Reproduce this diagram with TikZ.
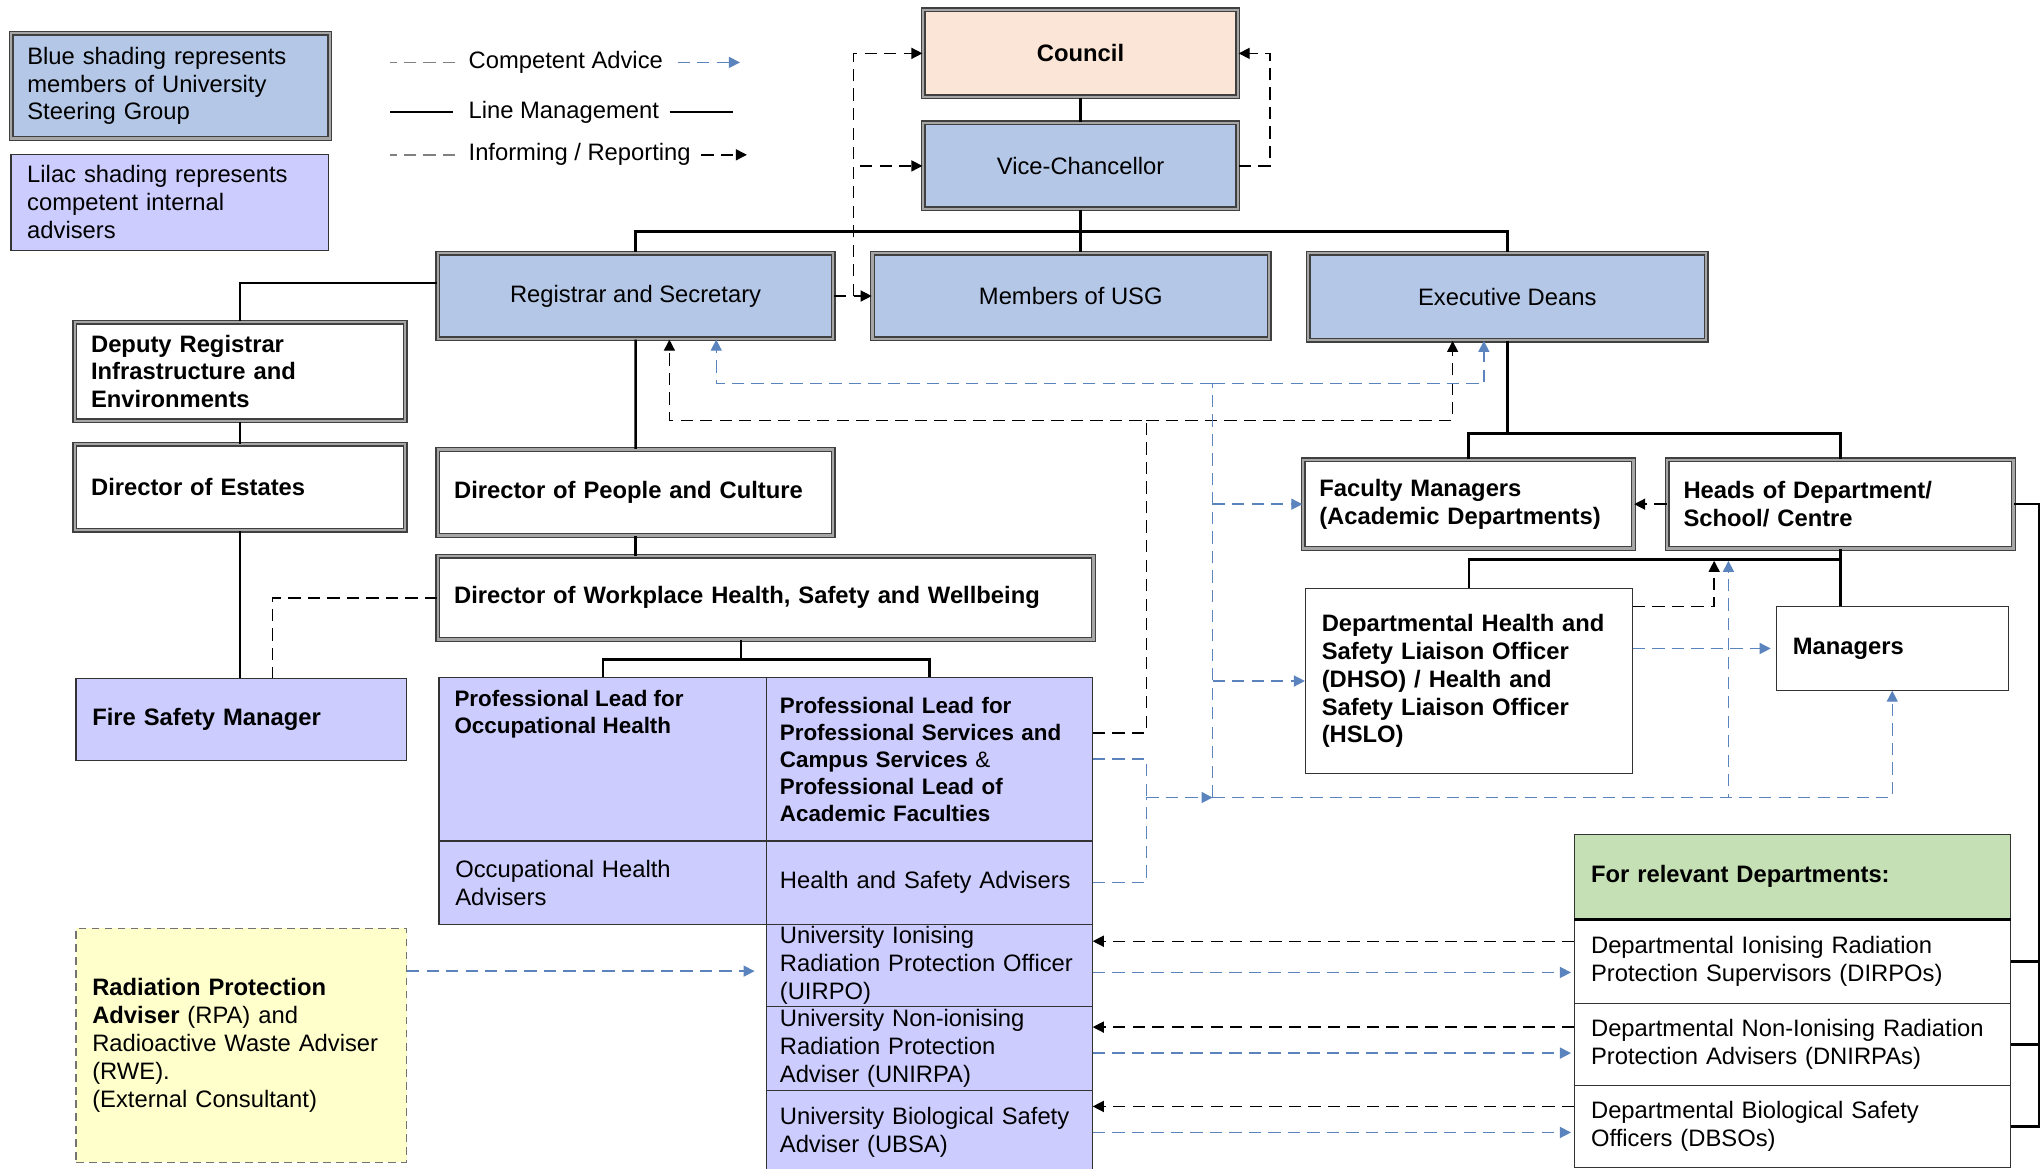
\documentclass[tikz,border=0pt]{standalone}
\usepackage{fontspec}
\setmainfont{Liberation Sans}
\usepackage{tikz}
\usetikzlibrary{arrows.meta}
\definecolor{usgblue}{HTML}{B4C7E7}
\definecolor{lilac}{HTML}{CCCCFF}
\definecolor{councilpeach}{HTML}{FBE5D6}
\definecolor{deptgreen}{HTML}{C5E0B4}
\definecolor{rpayellow}{HTML}{FFFFCC}
\definecolor{advblue}{HTML}{5B84BE}
\newcommand{\boxfont}{\fontsize{10.4}{12.2}\selectfont}
\newcommand{\leadfont}{\fontsize{9.8}{11.8}\selectfont\bfseries}

\begin{document}
\begin{tikzpicture}[x=0.2mm, y=-0.2mm,
    every node/.style={font=\boxfont, inner ysep=0pt},
    sz/.style 2 args={minimum width=#1*0.2mm, minimum height=#2*0.2mm, anchor=north west},
    dbl/.style={draw=black!75, line width=0.6pt, double=black!35, double distance=1pt},
    usgbox/.style={dbl, fill=usgblue, align=center},
    mgrbox/.style={dbl, fill=white, align=left, inner xsep=2.5mm, font=\boxfont\bfseries},
    advbox/.style={draw=black!80, line width=0.5pt, fill=lilac, align=left, inner xsep=2.5mm},
    deptbox/.style={draw=black!80, line width=0.5pt, fill=white, align=left, inner xsep=2.5mm},
    lm/.style={line width=1.1pt},
    informline/.style={line width=0.6pt, dash pattern=on 1.9mm off 1.1mm},
    inform/.style={informline, -{Triangle[length=1.7mm, width=1.7mm]}},
    adviceline/.style={draw=advblue, line width=0.6pt, dash pattern=on 1.9mm off 1.1mm},
    advice/.style={adviceline, -{Triangle[length=1.7mm, width=1.7mm]}},
]
\useasboundingbox (0,0) rectangle (1568,898);
\fill[white] (0,0) rectangle (1568,898);

% key
\node[usgbox, sz={245}{81}, align=left, inner xsep=2.5mm, text width=44mm] (keyusg) at (8,25) {Blue shading represents\\members of University\\Steering Group};
\node[advbox, sz={244}{74}, text width=43.8mm] (keyadv) at (8,118) {Lilac shading represents\\competent internal\\advisers};
\node[anchor=west] (keyadvice) at (354,48) {Competent Advice};
\node[anchor=west] (keyline) at (354,86) {Line Management};
\node[anchor=west] (keyinform) at (354,119) {Informing / Reporting};
\draw[adviceline, draw=gray] ([xshift=-0.8mm]keyadvice.west) -- ++(-50,0);
\draw[advice] ([xshift=1mm]keyadvice.east) -- ++(48,0);
\draw[lm] ([xshift=-1.2mm]keyline.west) -- ++(-48,0);
\draw[lm] ([xshift=0.4mm]keyline.east) -- ++(49,0);
\draw[informline, draw=gray] ([xshift=-0.8mm]keyinform.west) -- ++(-50,0);
\draw[inform] ([xshift=0.4mm]keyinform.east) -- ++(35,0);

% university steering group
\node[usgbox, sz={242}{67}, fill=councilpeach] (council) at (709,7) {\textbf{Council}};
\node[usgbox, sz={242}{66}] (vc) at (709,94) {Vice-Chancellor};
\node[usgbox, sz={304}{66}] (registrar) at (336,194) {Registrar and Secretary};
\node[usgbox, sz={305}{66}] (members) at (670,194) {Members of USG};
\node[usgbox, sz={306}{67}] (exec) at (1005,194) {Executive Deans};

% managers
\node[mgrbox, sz={254}{76}, text width=45.8mm] (deputy) at (57,247) {Deputy Registrar\\Infrastructure and\\Environments};
\node[mgrbox, sz={254}{66}, text width=45.8mm] (estates) at (57,341) {Director of Estates};
\node[mgrbox, sz={304}{66}, text width=55.8mm] (people) at (336,345) {Director of People and Culture};
\node[mgrbox, sz={504}{64}, text width=95.8mm] (workplace) at (336,427) {Director of Workplace Health, Safety and Wellbeing};
\node[mgrbox, sz={254}{68}, text width=45.8mm] (faculty) at (1001,353) {Faculty Managers\\(Academic Departments)};
\node[mgrbox, sz={266}{68}, text width=48.2mm] (heads) at (1281,353) {Heads of Department/\\School/ Centre};

% competent internal advisers
\node[advbox, sz={254}{63}, text width=45.8mm, font=\boxfont\bfseries] (fire) at (58,521) {Fire Safety Manager};
\node[advbox, sz={252}{126}, label={[anchor=north west, align=left, font=\leadfont, inner xsep=0pt, xshift=2.4mm, yshift=-2mm]north west:{Professional Lead for\\Occupational Health}}] (ohlead) at (337,520) {};
\node[advbox, sz={250}{126}, inner xsep=2mm, text width=46mm, font=\leadfont] (pslead) at (589,520) {Professional Lead for\\Professional Services and\\Campus Services {\mdseries\&}\\Professional Lead of\\Academic Faculties};
\node[advbox, sz={252}{64}, text width=45.4mm] (ohadv) at (337,646) {Occupational Health\\Advisers};
\node[advbox, sz={250}{64}, inner xsep=2mm, text width=46mm] (hsadv) at (589,646) {Health and Safety Advisers};
\node[advbox, sz={250}{63}, inner xsep=2mm, text width=46mm] (uirpo) at (589,710) {University Ionising\\Radiation Protection Officer\\(UIRPO)};
\node[advbox, sz={250}{65}, inner xsep=2mm, text width=46mm] (unirpa) at (589,773) {University Non-ionising\\Radiation Protection\\Adviser (UNIRPA)};
\node[advbox, sz={250}{64}, inner xsep=2mm, text width=46mm] (ubsa) at (589,838) {University Biological Safety\\Adviser (UBSA)};
\node[deptbox, sz={254}{180}, text width=45.8mm, fill=rpayellow, draw=black!55, dash pattern=on 1.2mm off 0.8mm] (rpa) at (58,713) {\textbf{Radiation Protection}\\\textbf{Adviser} (RPA) and\\Radioactive Waste Adviser\\(RWE).\\(External Consultant)};

% departments
\node[deptbox, sz={251}{142}, text width=45.2mm, font=\boxfont\bfseries] (dhso) at (1003,452) {Departmental Health and\\Safety Liaison Officer\\(DHSO) / Health and\\Safety Liaison Officer\\(HSLO)};
\node[deptbox, sz={178}{64}, text width=30.6mm, font=\boxfont\bfseries] (managers) at (1365,466) {Managers};
\node[deptbox, sz={335}{65}, text width=62mm, fill=deptgreen, font=\boxfont\bfseries] (forrel) at (1210,641) {For relevant Departments:};
\node[deptbox, sz={335}{65}, text width=62mm] (dirpo) at (1210,706) {Departmental Ionising Radiation\\Protection Supervisors (DIRPOs)};
\node[deptbox, sz={335}{63}, text width=62mm] (dnirpa) at (1210,771) {Departmental Non-Ionising Radiation\\Protection Advisers (DNIRPAs)};
\node[deptbox, sz={335}{63}, text width=62mm] (dbso) at (1210,834) {Departmental Biological Safety\\Officers (DBSOs)};
\draw[line width=1.2pt] (forrel.south west) -- (forrel.south east);

% line management
\draw[lm] (council.south) -- (vc.north);
\draw[lm] (vc.south) -- (vc.south |- members.north);
\draw[lm] (registrar.north) -- ++(0,-16) -| (exec.north);
\draw[lm] ([yshift=2mm]registrar.west) -| (deputy.north);
\draw[lm] (deputy.south) -- (estates.north);
\draw[lm] (estates.south) -- (estates.south |- fire.north);
\draw[lm] (registrar.south) -- (people.north);
\draw[lm] (people.south) -- (people.south |- workplace.north);
\draw[lm] ([xshift=-3.8mm]workplace.south) -- ++(0,15) -| (ohlead.north);
\draw[lm] ([xshift=-3.8mm]workplace.south) ++(0,15) -| (pslead.north);
\draw[lm] (exec.south) -- ++(0,71) -| (faculty.north);
\draw[lm] (exec.south) ++(0,71) -| (heads.north);
\draw[lm] (heads.south) -- ++(0,8) -| (dhso.north);
\draw[lm] (heads.south) -- (heads.south |- managers.north);
\draw[lm] (heads.east) -- ++(19,0) |- (dirpo.east);
\draw[lm] (heads.east) -- ++(19,0) |- (dnirpa.east);
\draw[lm] (heads.east) -- ++(19,0) |- (dbso.east);

% informing / reporting
\draw[inform] (registrar.east) -- (members.west);
\draw[inform] (registrar.east) -- ++(15,0) |- (council.west);
\draw[inform] ([xshift=3mm]registrar.east) |- (vc.west);
\draw[inform] (vc.east) -- ++(24,0) |- (council.east);
\draw[informline] (workplace.west) -| ([xshift=4.8mm]fire.north);
\draw[inform] (heads.west) -- (faculty.east);
\draw[inform] ([yshift=-2.8mm]dhso.north east) -| ([xshift=-19.4mm,yshift=-1.8mm]heads.south);
\coordinate (infojunc) at (881,323);
\draw[inform] ([yshift=4mm]pslead.east) -| (infojunc) -| ([xshift=5.2mm]registrar.south);
\draw[inform] (infojunc) -| ([xshift=-8.4mm]exec.south);

% competent advice
\coordinate (advjunc) at (881,613);
\coordinate (advup) at (932,613);
\coordinate (advtop) at (932,295);
\draw[adviceline] (pslead.east) -| (advjunc);
\draw[adviceline] (hsadv.east) -| (advjunc);
\draw[advice] (advjunc) -- (advup);
\draw[advice] (advup) -| (managers.south);
\draw[advice] (advup) -| ([xshift=-17.2mm,yshift=-1.8mm]heads.south);
\draw[adviceline] (advup) -- (advtop);
\draw[advice] (advtop) -| ([xshift=12.4mm]registrar.south);
\draw[advice] (advtop) -| ([xshift=-3.6mm]exec.south);
\draw[advice] (advup |- faculty.west) -- (faculty.west);
\draw[advice] (advup |- dhso.west) -- (dhso.west);
\draw[advice, shorten >=0.8mm] (dhso.east |- managers.west) -- (managers.west);
\coordinate (rpaout) at ([yshift=11.4mm]rpa.east);
\draw[advice, shorten >=1.8mm] (rpaout) -- (rpaout -| uirpo.west);

% departmental advisers
\foreach \dep/\uni/\up/\dn in {dirpo/uirpo/3.1/-1.7, dnirpa/unirpa/2.7/-1.3, dbso/ubsa/3.1/-0.9}{
  \coordinate (\dep-in) at ([yshift=\up mm]\dep.west);
  \coordinate (\dep-out) at ([yshift=\dn mm]\dep.west);
  \draw[inform] (\dep-in) -- (\dep-in -| \uni.east);
  \draw[advice, shorten >=0.5mm] (\dep-out -| \uni.east) -- (\dep-out);
}
\end{tikzpicture}
\end{document}
